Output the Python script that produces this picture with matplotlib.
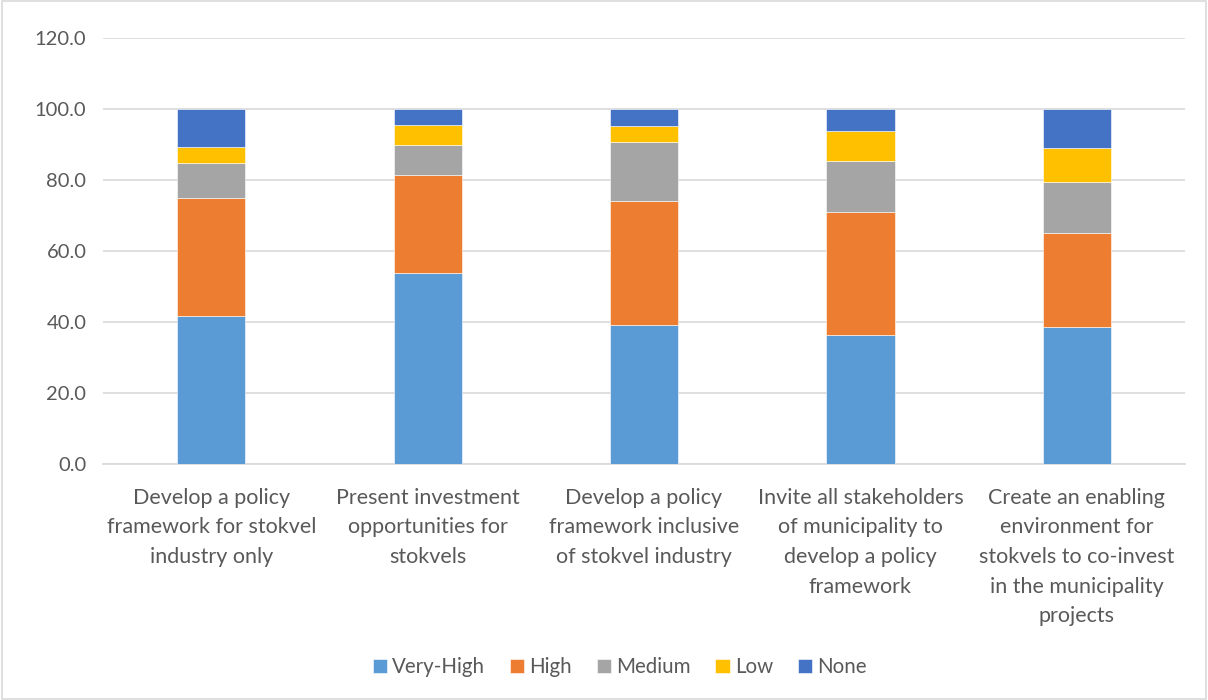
import matplotlib.pyplot as plt
from matplotlib.patches import Rectangle

categories = [
    "Develop a policy\nframework for stokvel\nindustry only",
    "Present investment\nopportunities for\nstokvels",
    "Develop a policy\nframework inclusive\nof stokvel industry",
    "Invite all stakeholders\nof municipality to\ndevelop a policy\nframework",
    "Create an enabling\nenvironment for\nstokvels to co-invest\nin the municipality\nprojects",
]
series_names = ["Very-High", "High", "Medium", "Low", "None"]
very_high = [41.7, 53.7, 39.2, 36.4, 38.5]
high = [33.3, 27.8, 34.9, 34.6, 26.5]
medium = [9.8, 8.5, 16.6, 14.3, 14.4]
low = [4.4, 5.5, 4.6, 8.4, 9.7]
none = [10.8, 4.5, 4.7, 6.3, 10.9]
colors = ["#5B9BD5", "#ED7D31", "#A5A5A5", "#FFC000", "#4472C4"]

plt.rcParams['font.family'] = ['Lato', 'DejaVu Sans']
text_color = "#595959"

fig = plt.figure(figsize=(12.08, 7.0), dpi=100)
fig.patches.append(Rectangle((0.0015, 0.002), 0.997, 0.996, transform=fig.transFigure,
                             fill=False, edgecolor="#D9D9D9", linewidth=1.2))
ax = fig.add_axes([0.0853, 0.337, 0.8957, 0.6087])

x = range(len(categories))
bottom = [0.0] * len(categories)
for name, vals, col in zip(series_names, [very_high, high, medium, low, none], colors):
    ax.bar(x, vals, 0.315, bottom=bottom, color=col, label=name,
           edgecolor="white", linewidth=0.4, zorder=3)
    bottom = [b + v for b, v in zip(bottom, vals)]

ax.set_xlim(-0.5, len(categories) - 0.5)
ax.set_ylim(0, 120)
ax.set_yticks(range(0, 121, 20))
ax.set_yticklabels([f"{v:.1f}" for v in range(0, 121, 20)], fontsize=14.5, color=text_color)
ax.set_xticks(list(x))
ax.set_xticklabels(categories, fontsize=15.5, color=text_color, linespacing=1.6)
ax.tick_params(axis="both", length=0)
ax.tick_params(axis="x", pad=17)
ax.tick_params(axis="y", pad=12)
ax.grid(axis="y", color="#D9D9D9", linewidth=1.2, zorder=0)
for s in ["top", "right", "left"]:
    ax.spines[s].set_visible(False)
ax.spines["bottom"].set_color("#D9D9D9")
ax.spines["bottom"].set_linewidth(1.2)

leg = fig.legend(loc="center", bbox_to_anchor=(0.513, 0.047), ncol=5, frameon=False,
                 fontsize=14.8, handlelength=0.7, handleheight=0.7, handletextpad=0.25,
                 columnspacing=1.2)
for t in leg.get_texts():
    t.set_color(text_color)

fig.savefig("out.png", dpi=100)
